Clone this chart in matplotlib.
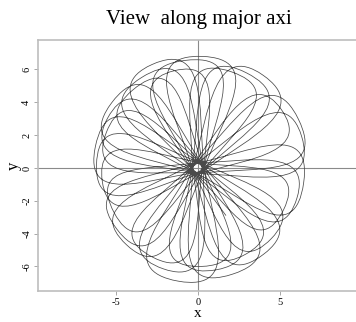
import numpy as np
import matplotlib.pyplot as plt
from matplotlib.path import Path
from matplotlib.patches import PathPatch

plt.rcParams['font.family'] = ['Liberation Serif', 'DejaVu Serif']

# orbit loops in the order they are traced: direction of each loop (deg),
# how far out it reaches and its half-width at the fattest part
loop_angle = [88, -133, -8, 114, -100, 17, 143, -72, 55, 168, -44,
              97, -143, -17, 122, -109, 26, 151, -80, 63, 178, -53,
              104, -152, -26, 130, -117, 35, 159, -88, 71, 188, -61]
loop_reach = [6.8, 6.4, 6.5, 6.9, 7.0, 6.6, 6.6, 6.8, 6.9, 6.4, 6.2,
              6.6, 6.2, 6.3, 6.5, 6.5, 6.8, 6.3, 6.3, 6.5, 6.2, 6.6,
              6.1, 5.8, 5.8, 6.2, 6.1, 6.2, 6.0, 6.0, 6.2, 5.9, 6.0]
loop_width = [2.2, 2.0, 2.3, 2.1, 2.3, 2.0, 2.2, 2.3, 2.1, 2.2, 1.9,
              2.3, 2.1, 1.9, 2.2, 2.0, 2.3, 1.9, 2.0, 2.2, 2.0, 2.1,
              1.8, 2.0, 1.9, 2.1, 2.0, 1.8, 1.9, 2.0, 2.1, 1.8, 1.9]
core_radius = 0.35
orbit_end = (1.7, -2.9)

xlim = (-9.76, 9.63)
ylim = (-7.5, 7.8)
xticks = [-5, 0, 5]
yticks = [-6, -4, -2, 0, 2, 4, 6]


def unit(deg):
    r = np.radians(deg)
    return np.array([np.cos(r), np.sin(r)])


# build the orbit as one chain of teardrop loops through the core:
# out along one side to the tip, round it and back along the other side
verts = []
codes = []
start = core_radius * unit(loop_angle[0] + 90)
verts.append(start)
codes.append(Path.MOVETO)
for ang, reach, hw in zip(loop_angle, loop_reach, loop_width):
    tip = reach * unit(ang)
    end = core_radius * unit(ang - 90)
    neck = 0.55 * reach
    bulge = 1.7 * hw
    verts += [start + neck * unit(ang + 20), tip + bulge * unit(ang + 90), tip,
              tip + bulge * unit(ang - 90), end + neck * unit(ang - 20), end]
    codes += [Path.CURVE4] * 6
    start = end
verts.append(np.array(orbit_end))
codes.append(Path.LINETO)

fig = plt.figure(figsize=(3.56, 3.22), dpi=100)
ax = fig.add_axes([0.107, 0.096, 0.893, 0.780])

ax.axhline(0, color='#8a8a8a', lw=0.8, zorder=1)
ax.axvline(0, color='#8a8a8a', lw=0.8, zorder=1)
ax.add_patch(PathPatch(Path(verts, codes), facecolor='none',
                       edgecolor='#4a4a4a', lw=0.55, zorder=2))

ax.set_xlim(*xlim)
ax.set_ylim(*ylim)
ax.set_xticks(xticks)
ax.set_yticks(yticks)
ax.set_xticklabels([str(t) for t in xticks])
ax.set_yticklabels([str(t) for t in yticks], rotation=90, va='center')
ax.tick_params(length=3, width=0.6, color='#999999', labelsize=7.5, pad=2)

for side in ['left', 'bottom', 'top']:
    ax.spines[side].set_color('#bdbdbd')
    ax.spines[side].set_linewidth(1.2)
ax.spines['right'].set_visible(False)

ax.set_xlabel('x', fontsize=11)
ax.set_ylabel('y', fontsize=12)
ax.xaxis.set_label_coords(0.503, -0.064)
ax.yaxis.set_label_coords(-0.050, 0.5)
fig.text(0.56, 0.94, 'View  along major axi', ha='center', va='center', fontsize=15)

fig.savefig('out.png', dpi=100)
